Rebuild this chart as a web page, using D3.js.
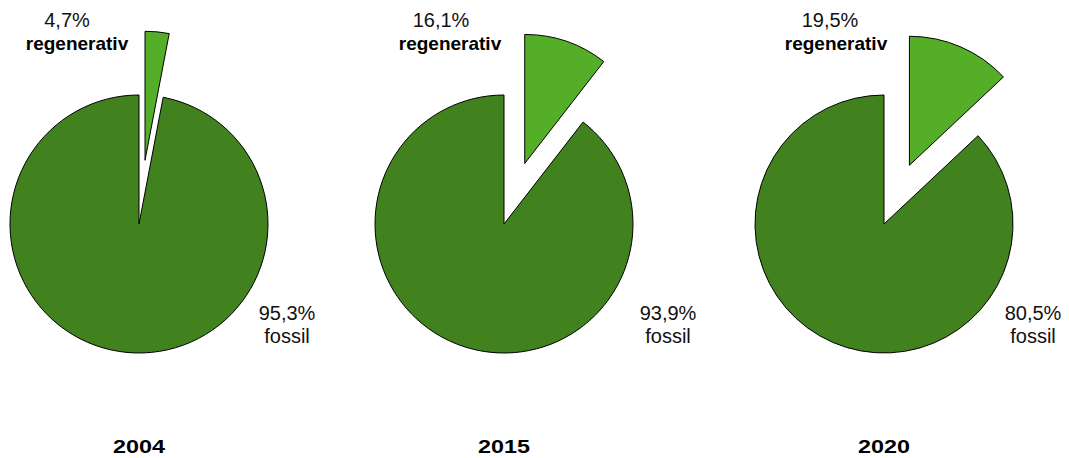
<!DOCTYPE html>
<html><head><meta charset="utf-8">
<script src="https://cdn.jsdelivr.net/npm/d3@7"></script>
<style>html,body{margin:0;padding:0;background:#fff;}svg{display:block;}</style>
</head><body>
<svg id="c" width="1069" height="458"></svg>
<script>
// Data
const years = ["2004", "2015", "2020"];
const regenLabels = ["4,7%", "16,1%", "19,5%"];
const fossilLabels = ["95,3%", "93,9%", "80,5%"];
const regenShare = [3.0, 10.5, 13.0];   // share as drawn in the picture
const fossilShare = [97.0, 89.5, 87.0];
const seriesNames = ["regenerativ", "fossil"];

const svg = d3.select("#c");
const W = 1069, H = 458;
const R = 129, explode = 64, cy = 224;
const cx = d3.scaleOrdinal().domain(years).range([139, 504, 884]);
const regenLabelX = d3.scaleOrdinal().domain(years).range([67, 441, 830]);
const regenNameX = d3.scaleOrdinal().domain(years).range([77, 450, 836]);
const fossilLabelX = d3.scaleOrdinal().domain(years).range([287, 668, 1033]);
const color = d3.scaleOrdinal().domain(seriesNames).range(["#55ae27", "#41821f"]);

const pie = d3.pie().sort(null).value(d => d.v).startAngle(0).endAngle(2 * Math.PI);
const arc = d3.arc().innerRadius(0).outerRadius(R);

years.forEach((y, i) => {
  const data = [{ k: "regenerativ", v: regenShare[i] }, { k: "fossil", v: fossilShare[i] }];
  const g = svg.append("g").attr("transform", `translate(${cx(y)},${cy})`);
  g.selectAll("path").data(pie(data)).join("path")
    .attr("d", arc)
    .attr("fill", d => color(d.data.k))
    .attr("stroke", "#000").attr("stroke-width", 1)
    .attr("transform", d => {
      if (d.data.k !== "regenerativ") return null;
      const a = (d.startAngle + d.endAngle) / 2;
      return `translate(${explode * Math.sin(a)},${-explode * Math.cos(a)})`;
    });

  svg.append("text").attr("x", regenLabelX(y)).attr("y", 27)
    .attr("text-anchor", "middle").attr("font-family", "Liberation Sans, Arial, sans-serif")
    .attr("font-size", 20).attr("fill", "#111").text(regenLabels[i]);
  svg.append("text").attr("x", regenNameX(y)).attr("y", 50)
    .attr("text-anchor", "middle").attr("font-family", "Liberation Sans, Arial, sans-serif")
    .attr("font-size", 19).attr("font-weight", "bold").attr("fill", "#000").text(seriesNames[0]);
  svg.append("text").attr("x", fossilLabelX(y)).attr("y", 320)
    .attr("text-anchor", "middle").attr("font-family", "Liberation Sans, Arial, sans-serif")
    .attr("font-size", 20).attr("fill", "#111").text(fossilLabels[i]);
  svg.append("text").attr("x", fossilLabelX(y)).attr("y", 343)
    .attr("text-anchor", "middle").attr("font-family", "Liberation Sans, Arial, sans-serif")
    .attr("font-size", 20).attr("fill", "#111").text(seriesNames[1]);
  svg.append("text").attr("x", cx(y)).attr("y", 453)
    .attr("text-anchor", "middle").attr("font-family", "Liberation Sans, Arial, sans-serif")
    .attr("font-size", 19).attr("font-weight", "bold").attr("fill", "#000")
    .attr("textLength", 52).attr("lengthAdjust", "spacingAndGlyphs").text(y);
});
</script>
</body></html>
